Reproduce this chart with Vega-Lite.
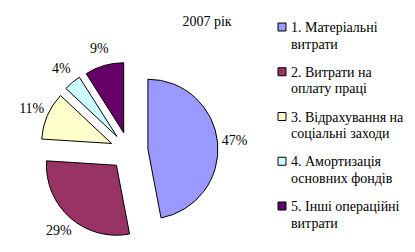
{
  "$schema": "https://vega.github.io/schema/vega-lite/v6.json",
  "width": 200,
  "height": 200,
  "autosize": "none",
  "padding": {"left": 29, "top": 51, "right": 186, "bottom": 1},
  "background": "white",
  "title": {"text": "2007 рік", "font": "Liberation Serif", "fontSize": 14, "fontWeight": "normal", "color": "black", "anchor": "middle", "dx": 78, "offset": -8},
  "config": {"view": {"stroke": null}},
  "data": {"values": [
    {"cat": "1. Матеріальні|витрати", "value": 47, "label": "47%"},
    {"cat": "2. Витрати на|оплату праці", "value": 29, "label": "29%"},
    {"cat": "3. Відрахування на|соціальні заходи", "value": 11, "label": "11%"},
    {"cat": "4. Амортизація|основних фондів", "value": 4, "label": "4%"},
    {"cat": "5. Інші операційні|витрати", "value": 9, "label": "9%"}
  ]},
  "layer": [
    {
      "mark": {"type": "arc", "outerRadius": 70, "stroke": "black", "strokeWidth": 1,
        "xOffset": {"expr": "19*sin(PI*(datum.value_start+datum.value_end)/100)"},
        "yOffset": {"expr": "-19*cos(PI*(datum.value_start+datum.value_end)/100)"}},
      "encoding": {
        "theta": {"field": "value", "type": "quantitative", "stack": true},
        "order": {"field": "cat", "sort": "ascending"},
        "color": {"field": "cat", "type": "nominal", "sort": null, "legend": null,
          "scale": {"domain": ["1. Матеріальні|витрати", "2. Витрати на|оплату праці", "3. Відрахування на|соціальні заходи", "4. Амортизація|основних фондів", "5. Інші операційні|витрати"],
                    "range": ["#9999FF", "#993366", "#FFFFCC", "#CCFFFF", "#660066"]}}
      }
    },
    {
      "mark": {"type": "text", "radius": 106, "font": "Liberation Serif", "fontSize": 14},
      "encoding": {
        "theta": {"field": "value", "type": "quantitative", "stack": true},
        "order": {"field": "cat", "sort": "ascending"},
        "text": {"field": "label"},
        "color": {"value": "black"}
      }
    },
    {
      "mark": {"type": "point", "shape": "square", "size": 64, "filled": true, "stroke": "black", "strokeWidth": 1, "opacity": 1, "xOffset": 153},
      "encoding": {
        "y": {"field": "cat", "type": "ordinal", "axis": null, "sort": null,
          "scale": {"type": "point", "padding": 0, "range": [-24, 155]}},
        "fill": {"field": "cat", "type": "nominal", "sort": null, "legend": null,
          "scale": {"domain": ["1. Матеріальні|витрати", "2. Витрати на|оплату праці", "3. Відрахування на|соціальні заходи", "4. Амортизація|основних фондів", "5. Інші операційні|витрати"],
                    "range": ["#9999FF", "#993366", "#FFFFCC", "#CCFFFF", "#660066"]}}
      }
    },
    {
      "mark": {"type": "text", "align": "left", "baseline": "alphabetic", "xOffset": 153, "dx": 9, "dy": 5, "lineBreak": "|", "lineHeight": 16.5, "font": "Liberation Serif", "fontSize": 14, "color": "black"},
      "encoding": {
        "y": {"field": "cat", "type": "ordinal", "axis": null, "sort": null,
          "scale": {"type": "point", "padding": 0, "range": [-24, 155]}},
        "text": {"field": "cat"}
      }
    }
  ]
}
